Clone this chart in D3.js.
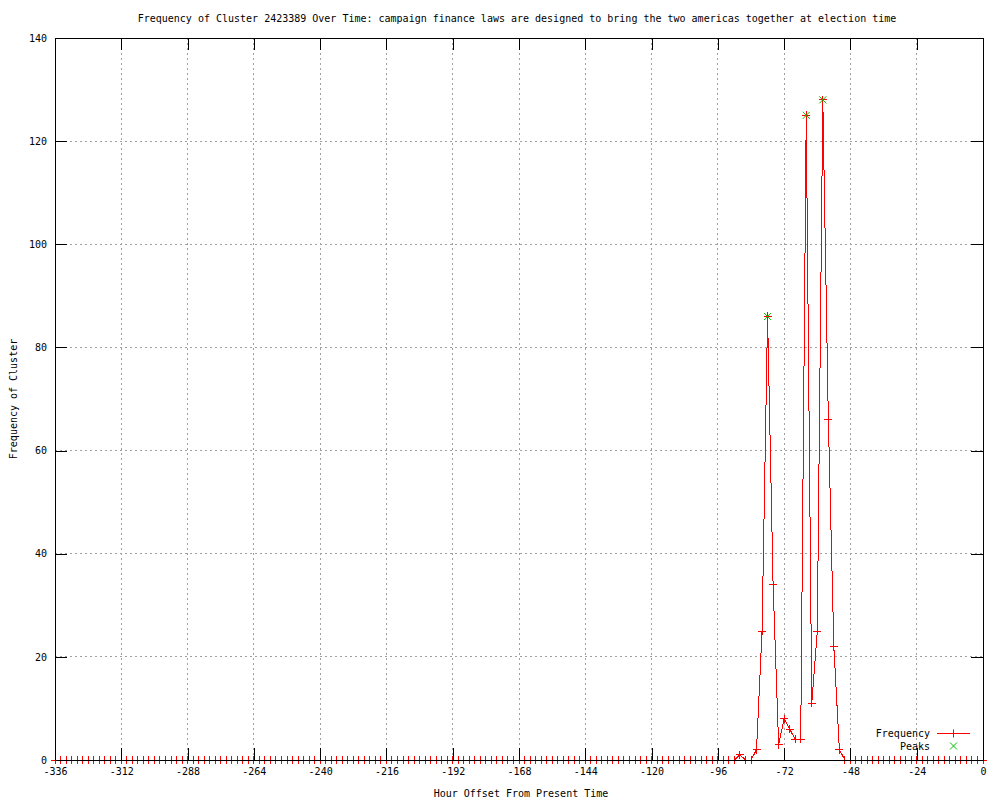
<!DOCTYPE html>
<html>
<head>
<meta charset="utf-8">
<script src="https://cdn.jsdelivr.net/npm/d3@7"></script>
<style>
  body { margin: 0; background: #fff; }
  svg text { font-family: "DejaVu Sans Mono", "Liberation Mono", monospace; font-size: 10px; fill: #000; }
</style>
</head>
<body>
<div id="chart"></div>
<script>
const TITLE = 'Frequency of Cluster 2423389 Over Time: campaign finance laws are designed to bring the two americas together at election time';
const X_LABEL = 'Hour Offset From Present Time';
const Y_LABEL = 'Frequency of Cluster';

// one sample every two hours, -336 .. 0
const hours = d3.range(-336, 1, 2);
const frequency = [
  0, 0, 0, 0, 0, 0, 0, 0, 0, 0, 0, 0, 0, 0, 0, 0, 0, 0, 0, 0,
  0, 0, 0, 0, 0, 0, 0, 0, 0, 0, 0, 0, 0, 0, 0, 0, 0, 0, 0, 0,
  0, 0, 0, 0, 0, 0, 0, 0, 0, 0, 0, 0, 0, 0, 0, 0, 0, 0, 0, 0,
  0, 0, 0, 0, 0, 0, 0, 0, 0, 0, 0, 0, 0, 0, 0, 0, 0, 0, 0, 0,
  0, 0, 0, 0, 0, 0, 0, 0, 0, 0, 0, 0, 0, 0, 0, 0, 0, 0, 0, 0,
  0, 0, 0, 0, 0, 0, 0, 0, 0, 0, 0, 0, 0, 0, 0, 0, 0, 0, 0, 0,
  0, 0, 0, 0, 1, 0, 0, 2, 25, 86, 34, 3, 8, 6, 4, 4, 125, 11, 25, 128,
  66, 22, 2, 0, 0, 0, 0, 0, 0, 0, 0, 0, 0, 0, 0, 0, 0, 0, 0, 0,
  0, 0, 0, 0, 0, 0, 0, 0, 0
];
const peakHours = [-78, -64, -58];
const peakValues = [86, 125, 128];

const xTicks = [-336, -312, -288, -264, -240, -216, -192, -168, -144, -120, -96, -72, -48, -24, 0];
const yTicks = [0, 20, 40, 60, 80, 100, 120, 140];

/**
 * Gnuplot-like frequency chart.
 * @class FrequencyChart
 */
class FrequencyChart {

  constructor(selector) {
    this.width = 1000;
    this.height = 800;
    this.margin = {left: 55, right: 17, top: 38, bottom: 40};
    this.tickLength = 12;
    this.svg = d3.select(selector).append('svg')
      .attr('width', this.width)
      .attr('height', this.height);
    this.x = d3.scaleLinear()
      .domain([-336, 0])
      .range([this.margin.left, this.width - this.margin.right]);
    this.y = d3.scaleLinear()
      .domain([0, 140])
      .range([this.height - this.margin.bottom, this.margin.top]);
  }

  // MARK: - Drawing

  drawGrid() {
    let [x0, x1] = this.x.range();
    let [y0, y1] = this.y.range();
    let grid = this.svg.append('g')
      .attr('stroke', '#a0a0a0')
      .attr('stroke-dasharray', '2,3')
      .attr('shape-rendering', 'crispEdges');
    grid.selectAll('.gx').data(xTicks.slice(1, -1)).enter().append('line')
      .attr('x1', d => this.x(d)).attr('x2', d => this.x(d))
      .attr('y1', y0).attr('y2', y1);
    grid.selectAll('.gy').data(yTicks.slice(1, -1)).enter().append('line')
      .attr('x1', x0).attr('x2', x1)
      .attr('y1', d => this.y(d)).attr('y2', d => this.y(d));
  }

  drawAxes() {
    let [x0, x1] = this.x.range();
    let [y0, y1] = this.y.range();
    let t = this.tickLength;
    // gnuplot prints a plain hyphen, not U+2212
    let format = d => String(d);

    let axes = [
      {axis: d3.axisBottom(this.x).tickValues(xTicks).tickFormat(format), at: [0, y0]},
      {axis: d3.axisTop(this.x).tickValues(xTicks).tickFormat(''), at: [0, y1]},
      {axis: d3.axisLeft(this.y).tickValues(yTicks).tickFormat(format), at: [x0, 0]},
      {axis: d3.axisRight(this.y).tickValues(yTicks).tickFormat(''), at: [x1, 0]}
    ];
    axes.forEach(a => {
      let g = this.svg.append('g')
        .attr('transform', `translate(${a.at[0]},${a.at[1]})`)
        .call(a.axis.tickSize(-t).tickPadding(8).tickSizeOuter(0));
      g.select('.domain').remove();
      g.selectAll('line').attr('stroke', '#000').attr('shape-rendering', 'crispEdges');
      g.selectAll('text').attr('font-family', null).attr('font-size', null);
    });

    this.svg.append('rect')
      .attr('x', x0).attr('y', y1)
      .attr('width', x1 - x0).attr('height', y0 - y1)
      .attr('fill', 'none').attr('stroke', '#000')
      .attr('shape-rendering', 'crispEdges');
  }

  drawSeries() {
    let points = hours.map((h, i) => ({hour: h, value: frequency[i]}));
    let line = d3.line().x(d => this.x(d.hour)).y(d => this.y(d.value));

    this.svg.append('path')
      .datum(points)
      .attr('d', line)
      .attr('fill', 'none')
      .attr('stroke', '#ff0000')
      .attr('stroke-width', 1)
      .attr('shape-rendering', 'crispEdges');

    this.svg.append('g').selectAll('path').data(points).enter().append('path')
      .attr('transform', d => `translate(${this.x(d.hour)},${this.y(d.value)})`)
      .attr('d', 'M-4,0H4M0,-4V4')
      .attr('stroke', '#ff0000')
      .attr('shape-rendering', 'crispEdges');

    let peaks = peakHours.map((h, i) => ({hour: h, value: peakValues[i]}));
    this.svg.append('g').selectAll('path').data(peaks).enter().append('path')
      .attr('transform', d => `translate(${this.x(d.hour)},${this.y(d.value)})`)
      .attr('d', 'M-3.5,-3.5L3.5,3.5M-3.5,3.5L3.5,-3.5')
      .attr('stroke', '#00c000')
      .attr('fill', 'none');
  }

  drawLegend() {
    let g = this.svg.append('g');
    g.append('text').attr('x', 930).attr('y', 733).attr('dy', '0.35em')
      .attr('text-anchor', 'end').text('Frequency');
    g.append('path').attr('d', 'M937,733.5H970M953.5,729.5V737.5')
      .attr('stroke', '#ff0000').attr('stroke-width', 1).attr('fill', 'none');
    g.append('text').attr('x', 930).attr('y', 746).attr('dy', '0.35em')
      .attr('text-anchor', 'end').text('Peaks');
    g.append('path').attr('d', 'M950,742.5L957,749.5M950,749.5L957,742.5')
      .attr('stroke', '#00c000').attr('fill', 'none');
  }

  drawLabels() {
    let [x0, x1] = this.x.range();
    let [y0, y1] = this.y.range();
    this.svg.append('text')
      .attr('x', (x0 + x1) / 2 - 2).attr('y', 22)
      .attr('text-anchor', 'middle').text(TITLE);
    this.svg.append('text')
      .attr('x', (x0 + x1) / 2 + 2).attr('y', 797)
      .attr('text-anchor', 'middle').text(X_LABEL);
    this.svg.append('text')
      .attr('transform', `translate(17,${(y0 + y1) / 2}) rotate(-90)`)
      .attr('text-anchor', 'middle').text(Y_LABEL);
  }

  render() {
    this.drawGrid();
    this.drawSeries();
    this.drawAxes();
    this.drawLegend();
    this.drawLabels();
    return this;
  }
}

new FrequencyChart('#chart').render();
</script>
</body>
</html>
